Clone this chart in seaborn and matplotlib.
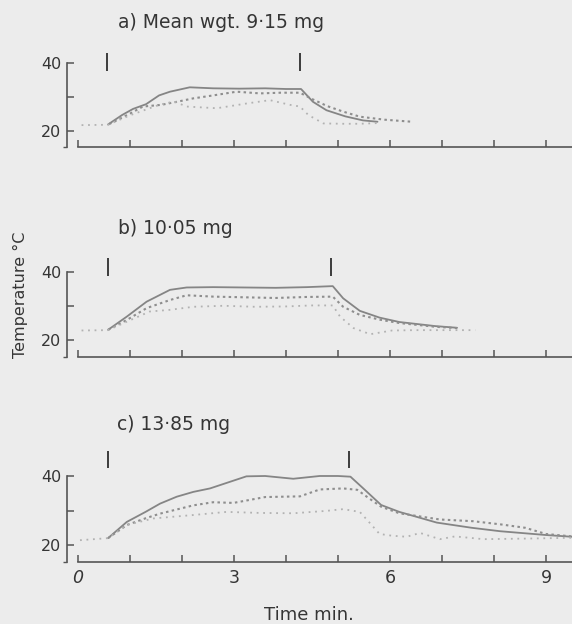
import matplotlib
matplotlib.use("Agg")
import matplotlib.pyplot as plt
import pandas as pd
import seaborn as sns

# ---------------- data ----------------
titles = ["a) Mean wgt. 9\u00b715 mg", "b) 10\u00b705 mg", "c) 13\u00b785 mg"]
x_ticks = [0, 1, 2, 3, 4, 5, 6, 7, 8, 9]
x_tick_labels = ["0", "", "", "3", "", "", "6", "", "", "9"]
y_ticks = [20, 30, 40]
y_tick_labels = ["20", "", "40"]

# panel a
a_solid_t = [0.58, 0.85, 1.06, 1.31, 1.56, 1.77, 2.15, 2.6, 3.1, 3.6, 4.0, 4.29, 4.52, 4.78, 5.14, 5.48, 5.76]
a_solid_y = [21.8, 24.6, 26.4, 27.8, 30.4, 31.5, 32.8, 32.5, 32.4, 32.5, 32.3, 32.3, 28.5, 26.0, 24.2, 23.0, 22.6]
a_dash_t = [0.60, 1.0, 1.25, 1.6, 1.9, 2.21, 2.6, 3.05, 3.5, 3.9, 4.27, 4.52, 4.8, 5.1, 5.42, 5.9, 6.42]
a_dash_y = [21.9, 25.0, 27.1, 27.6, 28.5, 29.5, 30.4, 31.5, 31.0, 31.2, 31.2, 29.2, 27.2, 25.6, 24.1, 23.2, 22.6]
a_dot_t = [0.07, 0.58, 1.0, 1.56, 1.85, 2.09, 2.67, 3.24, 3.69, 4.08, 4.27, 4.43, 4.72, 5.1, 5.42, 5.76]
a_dot_y = [21.6, 21.7, 24.5, 27.6, 28.6, 27.1, 26.6, 28.0, 29.0, 27.6, 27.1, 24.6, 22.1, 22.0, 22.0, 22.2]
a_marks = [0.55, 4.27]

# panel b
b_solid_t = [0.58, 0.94, 1.32, 1.77, 2.09, 2.6, 3.2, 3.8, 4.4, 4.9, 5.1, 5.42, 5.8, 6.18, 6.87, 7.29]
b_solid_y = [23.0, 26.9, 31.3, 34.8, 35.5, 35.6, 35.5, 35.4, 35.6, 35.9, 32.3, 28.6, 26.6, 25.3, 24.1, 23.6]
b_dash_t = [0.58, 0.94, 1.32, 1.77, 2.09, 2.6, 3.2, 3.8, 4.4, 4.9, 5.1, 5.42, 5.8, 6.18, 6.87, 7.29]
b_dash_y = [23.0, 25.9, 29.4, 31.8, 33.2, 32.8, 32.6, 32.4, 32.7, 32.8, 29.8, 27.4, 26.0, 25.0, 23.9, 23.5]
b_dot_t = [0.07, 0.58, 0.94, 1.38, 1.77, 2.22, 2.8, 3.4, 4.0, 4.5, 4.9, 5.04, 5.3, 5.62, 6.04, 6.5, 6.87, 7.64]
b_dot_y = [22.8, 22.9, 25.4, 28.4, 28.9, 29.8, 30.1, 29.8, 29.9, 30.2, 30.2, 26.9, 23.5, 21.7, 22.8, 22.9, 22.9, 22.9]
b_marks = [0.57, 4.86]

# panel c
c_solid_t = [0.58, 0.94, 1.3, 1.58, 1.9, 2.22, 2.54, 2.86, 3.24, 3.6, 4.14, 4.65, 5.0, 5.24, 5.48, 5.83, 6.18, 6.9, 7.57, 8.12, 9.0, 9.5]
c_solid_y = [22.0, 26.7, 29.6, 32.0, 34.0, 35.4, 36.4, 38.0, 39.9, 40.0, 39.2, 40.0, 40.0, 39.8, 36.5, 31.6, 29.6, 26.5, 25.0, 24.0, 22.9, 22.4]
c_dash_t = [0.58, 0.94, 1.31, 1.58, 2.22, 2.6, 2.99, 3.6, 4.27, 4.65, 5.1, 5.37, 5.6, 5.83, 6.18, 6.96, 7.6, 8.12, 8.6, 9.0, 9.5]
c_dash_y = [22.0, 25.8, 27.8, 29.1, 31.5, 32.4, 32.2, 33.9, 34.1, 36.1, 36.4, 36.0, 33.5, 31.1, 29.2, 27.4, 26.9, 26.0, 25.0, 23.2, 22.5]
c_dot_t = [0.04, 0.58, 0.94, 1.45, 2.22, 2.86, 3.5, 4.14, 4.78, 5.1, 5.42, 5.6, 5.8, 6.04, 6.32, 6.58, 6.96, 7.25, 7.8, 8.75, 9.5]
c_dot_y = [21.4, 22.0, 25.8, 27.7, 28.7, 29.6, 29.3, 29.2, 29.9, 30.4, 29.6, 26.6, 23.2, 22.7, 22.4, 23.5, 21.7, 22.5, 21.7, 21.9, 22.1]
c_marks = [0.57, 5.21]

series_names = ["solid", "dashed", "dotted"]

# ---------------- style ----------------
sns.set_theme(style="white")
plt.rcParams['font.family'] = ['DejaVu Sans']
BG = "#ececec"
TXT = "#353535"
AXC = "#555555"
line_styles = {
    "solid": dict(color="#858585", linewidth=1.3, linestyle="-"),
    "dashed": dict(color="#8e8e8e", linewidth=1.5, linestyle=(0, (1.2, 1.6))),
    "dotted": dict(color="#b2b2b2", linewidth=1.3, linestyle=(0, (1.0, 2.6))),
}

W, H = 572, 624
fig = plt.figure(figsize=(W / 100, H / 100), dpi=100, facecolor=BG)

# layout (pixels): axes top, axes bottom, ylim top, title baseline, mark span
panels = [
    dict(top=52.2, bottom=147.4, ymax=43.2, tb=28.5, tx=118, span=(37.7, 42.9),
         data=[(a_solid_t, a_solid_y), (a_dash_t, a_dash_y), (a_dot_t, a_dot_y)], marks=a_marks),
    dict(top=257.0, bottom=356.9, ymax=44.5, tb=234, tx=118, span=(38.9, 44.2),
         data=[(b_solid_t, b_solid_y), (b_dash_t, b_dash_y), (b_dot_t, b_dot_y)], marks=b_marks),
    dict(top=450.1, bottom=562.3, ymax=47.5, tb=430, tx=117, span=(42.4, 47.2),
         data=[(c_solid_t, c_solid_y), (c_dash_t, c_dash_y), (c_dot_t, c_dot_y)], marks=c_marks),
]

left_px, right_px = 67, 572
XMIN, XMAX = -0.21, 9.5

for i, p in enumerate(panels):
    ax = fig.add_axes([left_px / W, 1 - p["bottom"] / H,
                       (right_px - left_px) / W, (p["bottom"] - p["top"]) / H])
    ax.set_facecolor("none")
    for name, (t, y) in zip(series_names, p["data"]):
        df = pd.DataFrame({"t": t, "temp": y})
        sns.lineplot(data=df, x="t", y="temp", ax=ax, estimator=None, sort=False,
                     **line_styles[name])
    ax.vlines(p["marks"], p["span"][0], p["span"][1], color="#3c3c3c", linewidth=1.4)

    ax.set_xlim(XMIN, XMAX)
    ax.set_ylim(15, p["ymax"])
    for s in ["top", "right"]:
        ax.spines[s].set_visible(False)
    ax.spines["left"].set_bounds(15, 40)
    ax.spines["bottom"].set_bounds(0, XMAX)
    for s in ["left", "bottom"]:
        ax.spines[s].set_color(AXC)
        ax.spines[s].set_linewidth(1.2)

    ax.set_yticks(y_ticks)
    ax.set_yticklabels(y_tick_labels)
    ax.set_yticks([15], minor=True)
    ax.tick_params(axis="y", which="major", direction="in", length=5, width=1.1,
                   color=AXC, labelsize=11.5, labelcolor=TXT, pad=4, left=True)
    ax.tick_params(axis="y", which="minor", direction="out", length=3, width=1.0,
                   color=AXC, left=True)
    ax.set_xticks(x_ticks)
    ax.tick_params(axis="x", which="major", direction="in", length=5, width=1.1,
                   color=AXC, labelsize=12.5, labelcolor=TXT, pad=5, bottom=True)
    if i == 2:
        ax.set_xticklabels(x_tick_labels)
        ax.get_xticklabels()[0].set_fontstyle("italic")
    else:
        ax.set_xticklabels([])
    ax.set_xlabel("")
    ax.set_ylabel("")

    fig.text(p["tx"] / W, 1 - p["tb"] / H, titles[i], fontsize=13.5, color=TXT,
             ha="left", va="baseline")

fig.text(20 / W, 1 - 295 / H, "Temperature \u00b0C", rotation=90, fontsize=11.5,
         color=TXT, ha="center", va="center")
fig.text(309 / W, 1 - 615 / H, "Time min.", fontsize=13, color=TXT,
         ha="center", va="center")

fig.savefig("out.png", dpi=100, facecolor=BG)
